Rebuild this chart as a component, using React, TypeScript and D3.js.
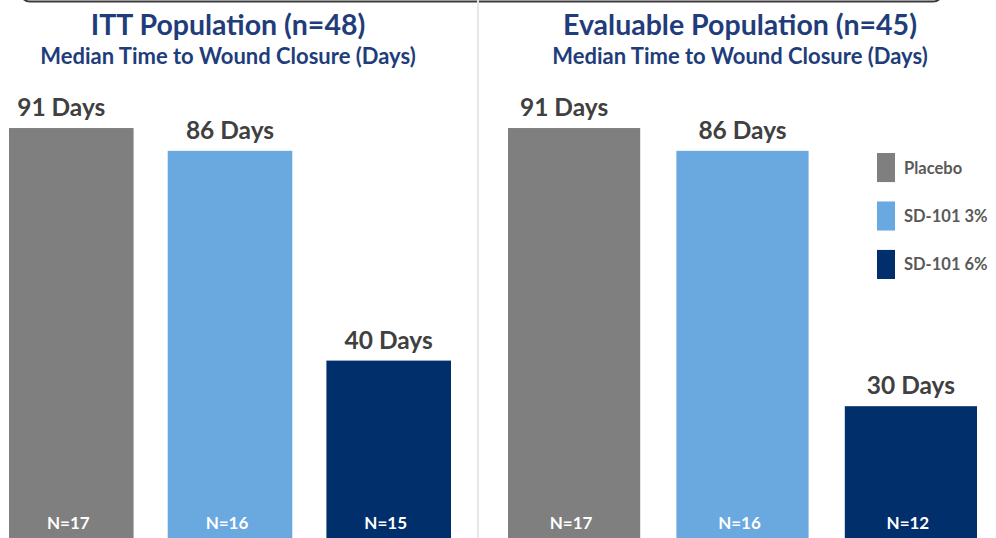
import React from "react";
import * as d3 from "d3";

const categories = ["Placebo", "SD-101 3%", "SD-101 6%"];
const panelTitles = ["ITT Population (n=48)", "Evaluable Population (n=45)"];
const subtitle = "Median Time to Wound Closure (Days)";
const ittDays = [91, 86, 40];
const ittN = [17, 16, 15];
const evalDays = [91, 86, 30];
const evalN = [17, 16, 12];

const colors = ["#7f7f7f", "#6aa8e0", "#002f6c"];
const FONT = "Lato, 'Open Sans', sans-serif";
const W = 996;
const H = 538;

const y = d3.scaleLinear().domain([0, 100]).range([543, 87]);

type Panel = {
  title: string;
  days: number[];
  n: number[];
  range: [number, number];
  titleX: number;
};

const panels: Panel[] = [
  { title: panelTitles[0], days: ittDays, n: ittN, range: [9, 451], titleX: 228 },
  { title: panelTitles[1], days: evalDays, n: evalN, range: [508, 977], titleX: 740 },
];

function PanelView({ p }: { p: Panel }) {
  const x = d3.scaleBand<string>().domain(categories).range(p.range).paddingInner(0.215).paddingOuter(0);
  return (
    <g>
      <text x={p.titleX} y={35} textAnchor="middle" fontFamily={FONT} fontWeight={700} fontSize={28.5} fill="#1f3d7a">
        {p.title}
      </text>
      <text x={p.titleX} y={64} textAnchor="middle" fontFamily={FONT} fontWeight={700} fontSize={22} fill="#1f3d7a">
        {subtitle}
      </text>
      {categories.map((c, i) => {
        const bx = x(c)!;
        const bw = x.bandwidth();
        const top = y(p.days[i]);
        const dx = i === 0 ? -10 : 0;
        return (
          <g key={c}>
            <rect x={bx} y={top} width={bw} height={H - top + 10} fill={colors[i]} />
            <text x={bx + bw / 2 + dx} y={top - 12} textAnchor="middle" fontFamily={FONT} fontWeight={700} fontSize={24.5} fill="#404040">
              {`${p.days[i]} Days`}
            </text>
            <text x={bx + bw / 2 - 3} y={529} textAnchor="middle" fontFamily={FONT} fontWeight={700} fontSize={17} fill="#ffffff">
              {`N=${p.n[i]}`}
            </text>
          </g>
        );
      })}
    </g>
  );
}

export default function App() {
  const legendY = d3.scaleBand<string>().domain(categories).range([153, 279]).paddingInner(0.4);
  return (
    <svg width={W} height={H} viewBox={`0 0 ${W} ${H}`} style={{ position: "absolute", left: 0, top: 0, background: "#fff" }}>
      <rect x={0} y={0} width={W} height={H} fill="#ffffff" />
      <rect x={20} y={-40} width={923} height={41.5} rx={10} fill="none" stroke="#3a3a3a" strokeWidth={2} />
      <line x1={478} x2={478} y1={0} y2={H} stroke="#e6e6e6" strokeWidth={2} />
      {panels.map((p) => (
        <PanelView key={p.title} p={p} />
      ))}
      <g>
        {categories.map((c, i) => {
          const ly = legendY(c)!;
          const lh = legendY.bandwidth();
          return (
            <g key={c}>
              <rect x={877} y={ly} width={18} height={lh} fill={colors[i]} />
              <text x={904} y={ly + lh / 2 + 6} fontFamily={FONT} fontWeight={700} fontSize={16.5} fill="#595959">
                {c}
              </text>
            </g>
          );
        })}
      </g>
    </svg>
  );
}
